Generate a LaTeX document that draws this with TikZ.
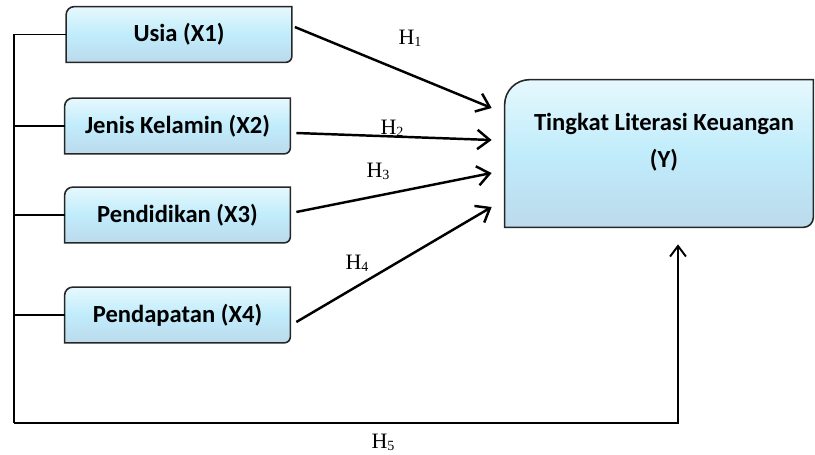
\documentclass[tikz,border=0pt]{standalone}
\usepackage{fontspec}
\setmainfont{Liberation Serif}
\newfontfamily\boxfont{Carlito}
\usetikzlibrary{arrows.meta,backgrounds}

\definecolor{boxtop}{RGB}{230,248,253}
\definecolor{boxmid}{RGB}{192,236,251}
\definecolor{boxbot}{RGB}{188,218,236}

\newcommand{\hsub}[1]{H\raisebox{-0.2ex}{\fontsize{8}{9}\selectfont #1}}

\tikzset{
  var/.style={minimum width=4.5cm, minimum height=1.1cm, inner sep=0pt,
    font=\boxfont\bfseries\fontsize{14}{16}\selectfont},
  hyp/.style={font=\fontsize{12.5}{14}\selectfont},
  line/.style={line width=1.1pt},
  arr/.style={line width=1.4pt, -{Straight Barb[length=7pt,width=11pt,line width=1.4pt]}},
  uparr/.style={line width=1.1pt, -{Straight Barb[length=6pt,width=9pt,line width=1.1pt]}},
  boxshade/.style={draw=black!85, line width=0.9pt,
    top color=boxtop, bottom color=boxbot, middle color=boxmid}
}

% box with rounded top-left and bottom-right corners
\newcommand{\cutbox}[3]{%
  \path[boxshade] (#1.south west) -- ([yshift=-#2]#1.north west)
    arc[start angle=180, end angle=90, radius=#2] -- (#1.north east)
    -- ([yshift=#3]#1.south east)
    arc[start angle=0, end angle=-90, radius=#3] -- cycle;}

\begin{document}
\begin{tikzpicture}
  \useasboundingbox (0,0) rectangle (16.3,-9.08);

  \node[var] (usia) at (3.58,-0.69) {Usia (X1)};
  \node[var] (jenis) at (3.55,-2.52) {Jenis Kelamin (X2)};
  \node[var] (didik) at (3.55,-4.3) {Pendidikan (X3)};
  \node[var] (dapat) at (3.55,-6.3) {Pendapatan (X4)};
  \node[minimum width=6.16cm, minimum height=2.94cm] (y) at (13.18,-3.07) {};
  \node[align=center, font=\boxfont\bfseries\fontsize{14}{21}\selectfont] (ytext) at (13.28,-2.85)
    {Tingkat Literasi Keuangan\\(Y)};

  \begin{scope}[on background layer]
    \cutbox{usia}{0.16cm}{0.12cm}
    \cutbox{jenis}{0.16cm}{0.12cm}
    \cutbox{didik}{0.16cm}{0.12cm}
    \cutbox{dapat}{0.16cm}{0.12cm}
    \cutbox{y}{0.5cm}{0.2cm}
  \end{scope}

  \coordinate (c1) at (0.28,-8.46);

  % left bus and H5
  \draw[line] (usia.west) -| (c1);
  \draw[line] (jenis.west) -- (jenis.west -| c1);
  \draw[line] (didik.west) -- (didik.west -| c1);
  \draw[line] (dapat.west) -- (dapat.west -| c1);
  \draw[uparr] (c1) -| ([xshift=0.38cm,yshift=-0.34cm]y.south);

  % H1 - H4
  \draw[arr] ([shift={(0.06,0.15)}]usia.east) -- ([shift={(-0.26,0.91)}]y.west);
  \draw[arr] ([shift={(0.12,-0.14)}]jenis.east) -- ([shift={(-0.26,0.27)}]y.west);
  \draw[arr] ([shift={(0.12,0.06)}]didik.east) -- ([shift={(-0.26,-0.39)}]y.west);
  \draw[arr] ([shift={(0.12,-0.14)}]dapat.east) -- ([shift={(-0.26,-1.07)}]y.west);

  \node[hyp] (h1) at (8.2,-0.76) {\hsub{1}};
  \node[hyp] (h2) at (7.84,-2.56) {\hsub{2}};
  \node[hyp] (h3) at (7.56,-3.42) {\hsub{3}};
  \node[hyp] (h4) at (7.14,-5.26) {\hsub{4}};
  \node[hyp] (h5) at (7.66,-8.84) {\hsub{5}};
\end{tikzpicture}
\end{document}
